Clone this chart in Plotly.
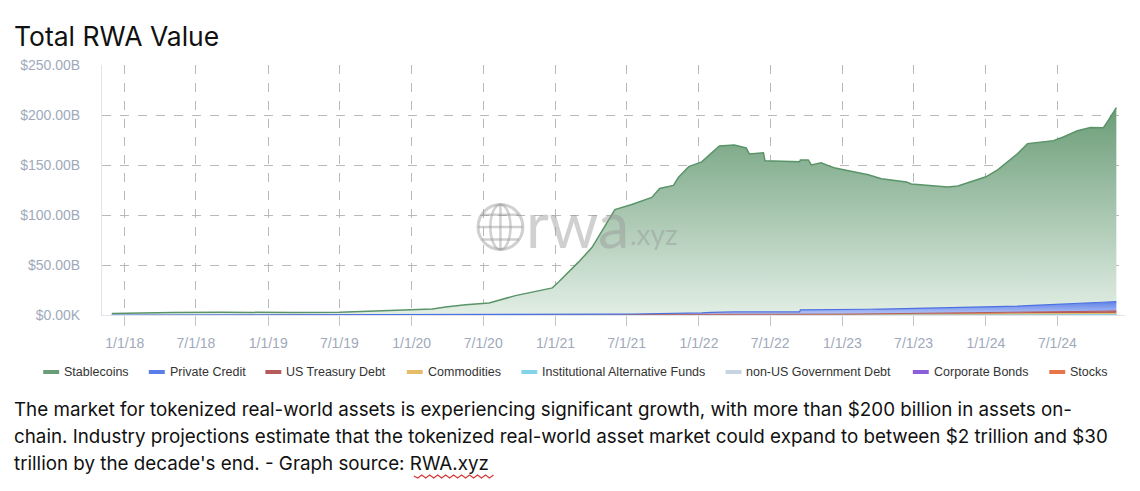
import plotly.graph_objects as go

# stablecoins (own value, $B)
stable_dates = ["2017-11-29", "2018-02-01", "2018-05-01", "2018-09-01", "2018-12-01",
                "2019-03-01", "2019-07-01", "2019-10-01", "2020-01-01", "2020-02-23",
                "2020-03-27", "2020-05-17", "2020-07-16", "2020-09-21", "2020-12-24",
                "2021-01-10", "2021-03-02", "2021-04-04", "2021-05-07", "2021-06-01",
                "2021-07-14", "2021-09-03", "2021-09-23", "2021-10-28", "2021-11-10",
                "2021-12-06", "2022-01-08", "2022-02-10", "2022-02-22", "2022-04-01",
                "2022-05-01", "2022-05-09", "2022-06-14", "2022-06-18", "2022-09-18",
                "2022-10-06", "2022-10-14", "2022-11-08", "2022-12-11", "2023-03-08",
                "2023-04-10", "2023-05-31", "2023-06-13", "2023-06-25", "2023-09-26",
                "2023-10-22", "2023-11-23", "2023-12-27", "2024-01-31", "2024-02-25",
                "2024-03-22", "2024-04-16", "2024-05-11", "2024-06-21", "2024-07-16",
                "2024-08-21", "2024-09-23", "2024-10-26", "2024-11-05", "2024-11-28"]
stable_vals = [1.4, 2.0, 2.5, 2.8, 2.2,
               2.3, 2.6, 3.6, 4.5, 5.7,
               7.7, 10.0, 11.7, 19.0, 26.7,
               33.0, 53.0, 67.0, 87.7, 104.6,
               109.5, 116.3, 125.2, 128.0, 136.0,
               146.5, 151.0, 162.0, 166.0, 167.0,
               164.0, 158.0, 159.0, 151.0, 150.0,
               150.0, 145.0, 147.0, 142.0, 134.5,
               130.3, 128.0, 126.7, 124.5, 120.8,
               121.7, 125.5, 129.3, 137.0, 144.7,
               152.5, 162.0, 162.8, 163.5, 166.8,
               172.5, 175.2, 174.5, 180.0, 194.0]

pc_dates = ["2017-11-29", "2021-03-01", "2021-06-01", "2021-09-01", "2022-01-01",
            "2022-02-22", "2022-09-14", "2022-09-16", "2023-01-01", "2023-07-01",
            "2024-01-01", "2024-03-10", "2024-07-01", "2024-11-28"]
pc_vals = [0, 0.1, 0.3, 0.6, 1.3, 2.3, 2.4, 4.3, 4.4, 5.0, 5.8, 6.2, 7.8, 9.3]

tsy_dates = ["2017-11-29", "2022-12-01", "2023-01-01", "2023-07-01", "2024-01-01",
             "2024-07-01", "2024-11-28"]
tsy_vals = [0, 0, 0.1, 0.6, 0.9, 1.8, 2.4]

cmd_dates = ["2017-11-29", "2019-09-01", "2021-01-01", "2022-02-01", "2023-01-01",
             "2024-01-01", "2024-11-28"]
cmd_vals = [0, 0.05, 0.3, 0.7, 0.7, 0.8, 1.0]

small_dates = ["2017-11-29", "2023-01-01", "2024-01-01", "2024-11-28"]
alt_funds_vals = [0, 0.05, 0.15, 0.3]
nonus_gov_vals = [0, 0.01, 0.05, 0.1]
corp_bond_vals = [0, 0.01, 0.02, 0.05]
stocks_vals = [0, 0.01, 0.05, 0.2]

y_ticks = [0, 50, 100, 150, 200, 250]
y_labels = ["$0.00K", "$50.00B", "$100.00B", "$150.00B", "$200.00B", "$250.00B"]

legend_names = ["Stablecoins", "Private Credit", "US Treasury Debt", "Commodities",
                "Institutional Alternative Funds", "non-US Government Debt",
                "Corporate Bonds", "Stocks"]
legend_colors = ["#6a9c77", "#5a7de8", "#b65a5a", "#e5bd68",
                 "#86d2e8", "#c8d4e2", "#8b5fd8", "#e8744a"]

# page pixel -> plot domain (plot area spans x 98..1125, y 65..315 of the page)
def dx(px):
    return (px - 98) / 1027

def dy(py):
    return (315 - py) / 250

fig = go.Figure()

# bottom of the stack first
small = [
    ("Stocks", small_dates, stocks_vals, "#e8744a"),
    ("Corporate Bonds", small_dates, corp_bond_vals, "#8b5fd8"),
    ("non-US Government Debt", small_dates, nonus_gov_vals, "#c8d4e2"),
    ("Institutional Alternative Funds", small_dates, alt_funds_vals, "#86d2e8"),
    ("Commodities", cmd_dates, cmd_vals, "#e5bd68"),
    ("US Treasury Debt", tsy_dates, tsy_vals, "#b65a5a"),
]
for name, xs, ys, col in small:
    fig.add_trace(go.Scatter(x=xs, y=ys, name=name, mode="lines", stackgroup="rwa",
                             stackgaps="interpolate", line=dict(color=col, width=1),
                             fillcolor=col))

fig.add_trace(go.Scatter(x=pc_dates, y=pc_vals, name="Private Credit", mode="lines",
                         stackgroup="rwa", stackgaps="interpolate",
                         line=dict(color="#4d70e2", width=1.2),
                         fillgradient=dict(type="vertical", start=0, stop=14,
                                           colorscale=[[0, "#b9c9f6"], [1, "#5a7de8"]])))

fig.add_trace(go.Scatter(x=stable_dates, y=stable_vals, name="Stablecoins", mode="lines",
                         stackgroup="rwa", stackgaps="interpolate",
                         line=dict(color="#5a9468", width=1.5),
                         fillgradient=dict(type="vertical", start=0, stop=210,
                                           colorscale=[[0, "#e2eee5"], [1, "#6a9c77"]])))

# watermark: globe + rwa.xyz
gx, gy = dx(498), dy(227)
rx, ry = 22.5 / 1027, 22.5 / 250
wm = "rgba(150,150,150,0.45)"
fig.add_shape(type="circle", xref="x domain", yref="y domain",
              x0=gx - rx, x1=gx + rx, y0=gy - ry, y1=gy + ry, line=dict(color=wm, width=3))
fig.add_shape(type="circle", xref="x domain", yref="y domain",
              x0=gx - rx * 0.45, x1=gx + rx * 0.45, y0=gy - ry, y1=gy + ry,
              line=dict(color=wm, width=2.5))
fig.add_shape(type="line", xref="x domain", yref="y domain",
              x0=gx, x1=gx, y0=gy - ry, y1=gy + ry, line=dict(color=wm, width=2.5))
for off, half in [(0, 1.0), (0.55, 0.83), (-0.55, 0.83)]:
    fig.add_shape(type="line", xref="x domain", yref="y domain",
                  x0=gx - rx * half, x1=gx + rx * half, y0=gy + ry * off, y1=gy + ry * off,
                  line=dict(color=wm, width=2.5))
fig.add_annotation(text="rwa", xref="x domain", yref="y domain", x=dx(522),
                   y=dy(223), xanchor="left", yanchor="middle", showarrow=False,
                   font=dict(family="Lato", size=63, color=wm))
fig.add_annotation(text=".xyz", xref="x domain", yref="y domain", x=dx(626),
                   y=dy(234), xanchor="left", yanchor="middle", showarrow=False,
                   font=dict(family="Lato", size=28, color=wm))

# legend drawn by hand so it sits on one row like the original
legend_sym_x = [39, 145, 262, 404, 519, 724, 912, 1049]
for name, col, sx in zip(legend_names, legend_colors, legend_sym_x):
    fig.add_shape(type="rect", xref="paper", yref="paper",
                  x0=dx(sx), x1=dx(sx + 16), y0=dy(374), y1=dy(370),
                  fillcolor=col, line=dict(width=0))
    fig.add_annotation(text=name, xref="paper", yref="paper", x=dx(sx + 19), y=dy(372),
                       xanchor="left", yanchor="middle", showarrow=False,
                       font=dict(family="Liberation Sans", size=12.5, color="#333333"))

# caption under the chart
caption = [
    "The market for tokenized real-world assets is experiencing significant growth, with more than $200 billion in assets on-",
    "chain. Industry projections estimate that the tokenized real-world asset market could expand to between $2 trillion and $30",
    "trillion by the decade's end. - Graph source: RWA.xyz",
]
for i, line in enumerate(caption):
    fig.add_annotation(text=line, xref="paper", yref="paper", x=dx(8),
                       y=dy(409 + 27 * i), xanchor="left", yanchor="middle",
                       showarrow=False, font=dict(family="Inter", size=18.8, color="#111111"))

# spell-check squiggle under RWA.xyz
sq = "M %f,%f" % (dx(411), dy(476))
for k in range(1, 21):
    sq += " L %f,%f" % (dx(411 + 4 * k), dy(478 if k % 2 else 475))
fig.add_shape(type="path", xref="paper", yref="paper", path=sq,
              line=dict(color="#d23a3a", width=1.2))

fig.update_layout(
    width=1140, height=491,
    margin=dict(l=90, r=23, t=57, b=184),
    paper_bgcolor="white", plot_bgcolor="white",
    title=dict(text="Total RWA Value", xref="container", yref="container",
               x=6 / 1140, y=1 - 29 / 491, xanchor="left", yanchor="middle",
               font=dict(family="Inter", size=26.5, color="#111111")),
    showlegend=False,
    hovermode="x unified",
)
fig.update_xaxes(
    type="date", range=["2017-11-04", "2024-12-20"],
    tick0="2018-01-01", dtick="M6", tickformat="%-m/%-d/%y",
    showgrid=True, gridcolor="#b9b9b9", griddash="dash", gridwidth=1,
    ticks="outside", ticklen=10, tickcolor="#c4c4c4", ticklabelstandoff=5,
    showline=True, linecolor="#dfe3ec", linewidth=1,
    tickfont=dict(family="Liberation Sans", size=14, color="#a0a9bc"),
)
fig.update_yaxes(
    range=[0, 250], tickvals=y_ticks, ticktext=y_labels,
    showgrid=True, gridcolor="#b9b9b9", griddash="dash", gridwidth=1,
    zeroline=False, showline=True, linecolor="#dfe3ec", linewidth=1,
    ticklabelstandoff=18,
    tickfont=dict(family="Liberation Sans", size=14, color="#a0a9bc"),
)

fig.write_html("out.html")
